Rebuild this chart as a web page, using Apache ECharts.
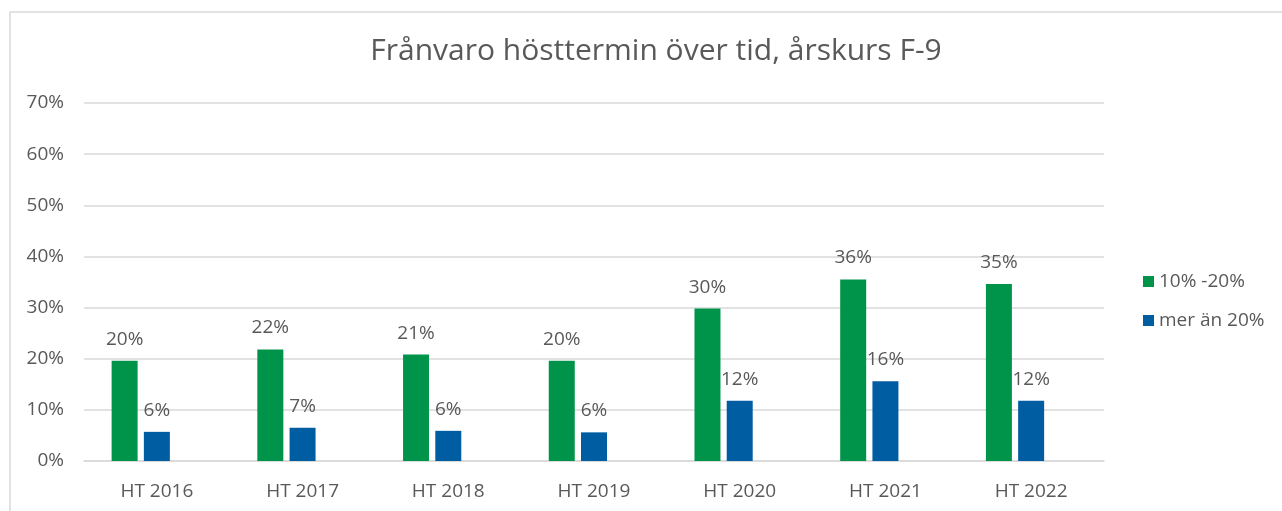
<!DOCTYPE html>
<html>
<head>
<meta charset="utf-8">
<script src="https://cdn.jsdelivr.net/npm/echarts@6/dist/echarts.min.js"></script>
<style>
  html, body { margin: 0; padding: 0; background: #fff; }
  #chart { width: 1282px; height: 511px; }
</style>
</head>
<body>
<div id="chart"></div>
<script>
var categories = ['HT 2016', 'HT 2017', 'HT 2018', 'HT 2019', 'HT 2020', 'HT 2021', 'HT 2022'];
var tio_tjugo = [19.6, 21.8, 20.8, 19.6, 29.8, 35.5, 34.6];
var over_tjugo = [5.7, 6.5, 5.9, 5.6, 11.8, 15.6, 11.8];
// tom tredje serie, ger samma luckor som i originalet
var tom = [null, null, null, null, null, null, null];

var textColor = '#595959';
var font = 'Open Sans';

var chart = echarts.init(document.getElementById('chart'));

var labelStyle = {
    show: true,
    position: 'top',
    distance: 12,
    color: textColor,
    fontFamily: font,
    fontSize: 19,
    formatter: function (p) { return Math.round(p.value) + '%'; }
};

var option = {
    backgroundColor: '#fff',
    animation: false,
    title: {
        text: 'Frånvaro hösttermin över tid, årskurs F-9',
        left: 651,
        textAlign: 'center',
        top: 31,
        textStyle: { color: textColor, fontFamily: font, fontSize: 30, fontWeight: 'normal' }
    },
    graphic: [{
        type: 'rect',
        shape: { x: 10, y: 12, width: 1300, height: 520 },
        style: { fill: 'none', stroke: '#D9D9D9', lineWidth: 1.5 },
        silent: true
    }],
    legend: {
        data: ['10% -20%', 'mer än 20%'],
        orient: 'vertical',
        left: 1138,
        top: 267,
        itemWidth: 11,
        itemHeight: 11,
        itemGap: 20,
        icon: 'rect',
        textStyle: { color: textColor, fontFamily: font, fontSize: 19 }
    },
    grid: { left: 84, right: 178, top: 103, bottom: 50 },
    xAxis: {
        type: 'category',
        data: categories,
        axisLine: { lineStyle: { color: '#D9D9D9', width: 1.5 } },
        axisTick: { show: false },
        axisLabel: { color: textColor, fontFamily: font, fontSize: 19, margin: 21 }
    },
    yAxis: {
        type: 'value',
        min: 0,
        max: 70,
        interval: 10,
        axisLine: { show: false },
        axisTick: { show: false },
        splitLine: { lineStyle: { color: '#D9D9D9', width: 1.5 } },
        axisLabel: { color: textColor, fontFamily: font, fontSize: 19, margin: 20, formatter: '{value}%' }
    },
    series: [
        {
            name: '10% -20%',
            type: 'bar',
            data: tio_tjugo,
            barWidth: 26,
            barGap: '24%',
            itemStyle: { color: '#00944A' },
            label: labelStyle
        },
        {
            name: 'mer än 20%',
            type: 'bar',
            data: over_tjugo,
            barWidth: 26,
            itemStyle: { color: '#005DA2' },
            label: labelStyle
        },
        {
            name: 'tom',
            type: 'bar',
            data: tom,
            barWidth: 26
        }
    ]
};

chart.setOption(option);
</script>
</body>
</html>
